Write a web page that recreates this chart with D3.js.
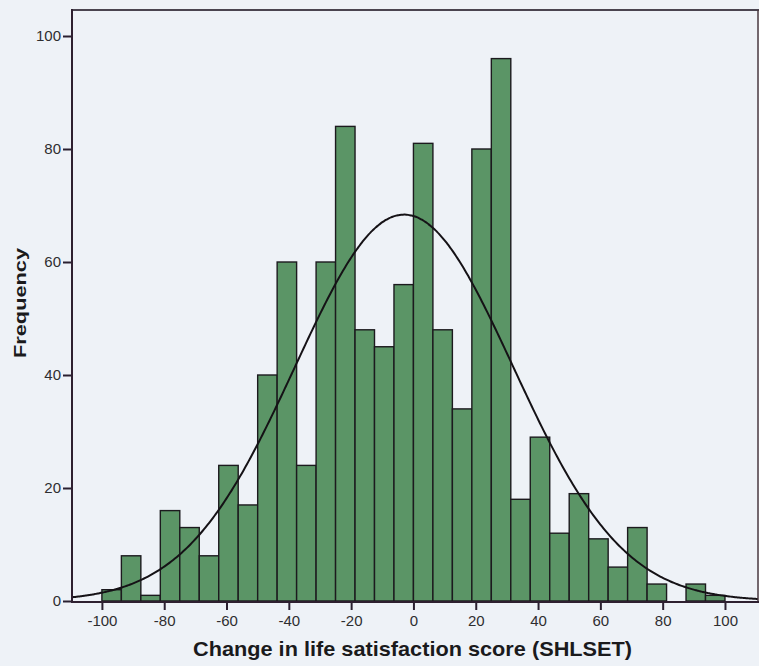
<!DOCTYPE html>
<html>
<head>
<meta charset="utf-8">
<script src="https://cdn.jsdelivr.net/npm/d3@7"></script>
<style>
  html, body { margin: 0; padding: 0; background: #eef2f7; }
  svg { display: block; }
</style>
</head>
<body>
<svg id="chart" width="759" height="666"></svg>
<script>
// ---- data ----
const binStart = -100;
const binWidth = 6.25;
const counts = [2, 8, 1, 16, 13, 8, 24, 17, 40, 60, 24, 60, 84, 48, 45, 56,
                81, 48, 34, 80, 96, 18, 29, 12, 19, 11, 6, 13, 3, 0, 3, 1];
const xTicks = [-100, -80, -60, -40, -20, 0, 20, 40, 60, 80, 100];
const yTicks = [0, 20, 40, 60, 80, 100];
const curveMean = -3;
const curveSD = 35;
const xTitle = "Change in life satisfaction score (SHLSET)";
const yTitle = "Frequency";

// ---- layout ----
const svg = d3.select("#chart");
const mLeft = 72, mRight = 758, mTop = 10, mBottom = 602;

const x = d3.scaleLinear().domain([-109.6, 110.6]).range([mLeft, mRight]);
const y = d3.scaleLinear().domain([0, 100]).range([601, 36]);

const bins = counts.map((c, i) => ({ x0: binStart + i * binWidth, x1: binStart + (i + 1) * binWidth, n: c }));

// bars
svg.append("g").selectAll("rect").data(bins.filter(d => d.n > 0)).join("rect")
  .attr("x", d => x(d.x0))
  .attr("y", d => y(d.n))
  .attr("width", d => x(d.x1) - x(d.x0))
  .attr("height", d => y(0) - y(d.n))
  .attr("fill", "#5b9566")
  .attr("stroke", "#1c1a1e")
  .attr("stroke-width", 1.4);

// normal curve
const N = d3.sum(counts);
const pts = d3.range(0, 401).map(i => {
  const v = x.domain()[0] + (x.domain()[1] - x.domain()[0]) * i / 400;
  const z = (v - curveMean) / curveSD;
  return [v, N * binWidth / (curveSD * Math.sqrt(2 * Math.PI)) * Math.exp(-0.5 * z * z)];
});
svg.append("path")
  .datum(pts)
  .attr("d", d3.line().x(d => x(d[0])).y(d => y(d[1])).curve(d3.curveBasis))
  .attr("fill", "none")
  .attr("stroke", "#151216")
  .attr("stroke-width", 2);

// frame
svg.append("line").attr("x1", mLeft).attr("x2", mRight + 1).attr("y1", mTop).attr("y2", mTop)
  .attr("stroke", "#4a4450").attr("stroke-width", 2);
svg.append("line").attr("x1", mRight).attr("x2", mRight).attr("y1", mTop).attr("y2", mBottom)
  .attr("stroke", "#4a3a40").attr("stroke-width", 1.5);

// axes
const fmt = d => String(d);
const yAxis = svg.append("g").attr("transform", `translate(${mLeft},0)`)
  .call(d3.axisLeft(y).tickValues(yTicks).tickSize(9).tickPadding(2).tickFormat(fmt));
const xAxis = svg.append("g").attr("transform", `translate(0,${mBottom})`)
  .call(d3.axisBottom(x).tickValues(xTicks).tickSize(8).tickPadding(5).tickFormat(fmt));

[yAxis, xAxis].forEach(g => {
  g.select(".domain").remove();
  g.selectAll(".tick line").attr("stroke", "#2a2030").attr("stroke-width", 2);
  g.selectAll(".tick text").attr("fill", "#2e2e30")
    .style("font-family", "Liberation Sans, Arial, sans-serif").style("font-size", "15px");
});
svg.append("line").attr("x1", mLeft).attr("x2", mLeft).attr("y1", mTop - 1).attr("y2", mBottom + 1)
  .attr("stroke", "#2e2030").attr("stroke-width", 2);
svg.append("line").attr("x1", mLeft).attr("x2", mRight + 1).attr("y1", mBottom).attr("y2", mBottom)
  .attr("stroke", "#2e2030").attr("stroke-width", 2);

// titles
svg.append("text")
  .attr("x", 412.5).attr("y", 656)
  .attr("text-anchor", "middle")
  .attr("textLength", 439).attr("lengthAdjust", "spacingAndGlyphs")
  .style("font-family", "Liberation Sans, Arial, sans-serif")
  .style("font-weight", "bold").style("font-size", "21px").attr("fill", "#1a1a1c")
  .text(xTitle);
svg.append("text")
  .attr("transform", "translate(26,303) rotate(-90)")
  .attr("text-anchor", "middle")
  .attr("textLength", 110).attr("lengthAdjust", "spacingAndGlyphs")
  .style("font-family", "Liberation Sans, Arial, sans-serif")
  .style("font-weight", "bold").style("font-size", "17px").attr("fill", "#1a1a1c")
  .text(yTitle);
</script>
</body>
</html>
